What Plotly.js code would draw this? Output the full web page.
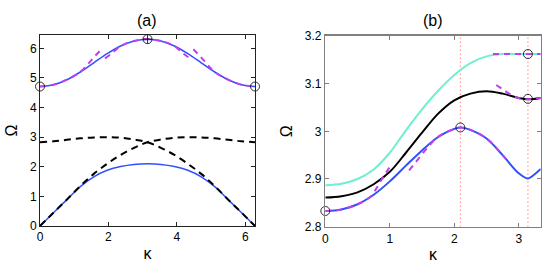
<!DOCTYPE html>
<html>
<head>
<meta charset="utf-8">
<script src="https://cdn.plot.ly/plotly-3.0.1.min.js"></script>
<style>html,body{margin:0;padding:0;background:#fff}#chart{width:545px;height:273px}</style>
</head>
<body>
<div id="chart"></div>
<script>
// ---------- panel (a) ----------
const kappaA = [0, 0.393, 0.785, 1.178, 1.571, 1.963, 2.356, 2.749, 3.142, 3.534, 3.927, 4.320, 4.712, 5.105, 5.498, 5.890, 6.283];
const upperBlueA = [4.71, 4.77, 4.94, 5.20, 5.51, 5.82, 6.08, 6.25, 6.31, 6.25, 6.08, 5.82, 5.51, 5.20, 4.94, 4.77, 4.71];
const lowerBlueA = [0, 0.45, 0.89, 1.33, 1.66, 1.88, 2.01, 2.08, 2.10, 2.08, 2.01, 1.88, 1.66, 1.33, 0.89, 0.45, 0];
const dashRiseA = [0, 0.45, 0.89, 1.35, 1.76, 2.10, 2.40, 2.64, 2.83, 2.92, 2.98, 3.00, 2.99, 2.96, 2.91, 2.86, 2.83];
const dashFallA = [2.83, 2.86, 2.91, 2.96, 2.99, 3.00, 2.98, 2.92, 2.83, 2.64, 2.40, 2.10, 1.76, 1.35, 0.89, 0.45, 0];
const kappaMagA = [0, 0.393, 0.785, 1.178, 1.4, 1.6, 1.8, null, 1.9, 2.1, 2.356, 2.749, 3.142, 3.534, 3.927, 4.18, 4.38, null, 4.48, 4.68, 4.88, 5.105, 5.498, 5.890, 6.283];
const magentaA = [4.71, 4.77, 4.94, 5.20, 5.47, 5.73, 5.97, null, 5.66, 5.83, 6.08, 6.25, 6.31, 6.25, 6.08, 5.83, 5.66, null, 5.97, 5.73, 5.47, 5.20, 4.94, 4.77, 4.71];
const circKA = [0, 3.142, 6.283];
const circOA = [4.71, 6.31, 4.71];

// ---------- panel (b) ----------
const kappaCyan = [0, 0.25, 0.5, 0.75, 1.0, 1.25, 1.5, 1.75, 2.0, 2.25, 2.5, 2.75, 3.0, 3.34];
const cyanB = [2.887, 2.890, 2.900, 2.920, 2.955, 3.002, 3.046, 3.085, 3.118, 3.143, 3.157, 3.162, 3.162, 3.162];
const kappaBlack = [0, 0.25, 0.5, 0.75, 1.0, 1.25, 1.5, 1.75, 2.0, 2.25, 2.5, 2.75, 3.0, 3.14, 3.34];
const blackB = [2.861, 2.864, 2.872, 2.889, 2.915, 2.955, 2.997, 3.037, 3.065, 3.079, 3.084, 3.079, 3.070, 3.067, 3.070];
const kappaBlue = [0, 0.25, 0.5, 0.75, 1.0, 1.25, 1.5, 1.75, 2.0, 2.1, 2.25, 2.5, 2.75, 3.0, 3.14, 3.2, 3.34];
const blueB = [2.833, 2.836, 2.847, 2.867, 2.895, 2.928, 2.960, 2.988, 3.005, 3.008, 3.003, 2.985, 2.950, 2.912, 2.901, 2.905, 2.921];
const kappaMagB = [0, 0.25, 0.5, 0.7, 0.8, 0.9, 1.0, null, 1.3, 1.4, 1.5, 1.6, 1.7, 1.8, 2.0, 2.1, 2.25, 2.5, 2.75, 2.8, null, 2.65, 2.75, 2.85, 2.95, 3.05, 3.14, 3.34, null, 2.6, 3.34];
const magentaB = [2.833, 2.836, 2.847, 2.863, 2.882, 2.905, 2.925, null, 2.918, 2.935, 2.952, 2.968, 2.983, 2.993, 3.005, 3.008, 3.003, 2.985, 2.950, 2.942, null, 3.097, 3.088, 3.079, 3.072, 3.068, 3.067, 3.070, null, 3.162, 3.162];
const circKB = [0, 2.094, 3.142, 3.142];
const circOB = [2.833, 3.008, 3.162, 3.068];
const vlineK = [2.094, 3.142];
const yRangeB = [2.8, 3.2];

const blue = '#3050ff', mag = '#c23cf0', cyan = '#6ef0d0';
const traces = [];
// panel (a)
traces.push({x: kappaA, y: upperBlueA, mode: 'lines', line: {color: blue, width: 1.5, shape: 'spline'}, xaxis: 'x', yaxis: 'y'});
traces.push({x: kappaMagA, y: magentaA, mode: 'lines', connectgaps: false, line: {color: mag, width: 2, dash: '6px,5px', shape: 'spline'}, xaxis: 'x', yaxis: 'y'});
traces.push({x: kappaA, y: lowerBlueA, mode: 'lines', line: {color: blue, width: 1.5, shape: 'spline'}, xaxis: 'x', yaxis: 'y'});
traces.push({x: kappaA, y: dashRiseA, mode: 'lines', line: {color: '#000', width: 2, dash: '7px,5px', shape: 'spline'}, xaxis: 'x', yaxis: 'y'});
traces.push({x: kappaA, y: dashFallA, mode: 'lines', line: {color: '#000', width: 2, dash: '7px,5px', shape: 'spline'}, xaxis: 'x', yaxis: 'y'});
traces.push({x: circKA, y: circOA, mode: 'markers', marker: {symbol: ['circle-open', 'circle-cross-open', 'circle-open'], size: 9, color: '#000', line: {width: 0.8, color: '#000'}}, cliponaxis: false, xaxis: 'x', yaxis: 'y'});
// panel (b)
vlineK.forEach(k => traces.push({x: [k, k], y: yRangeB, mode: 'lines', line: {color: '#ff5050', width: 1, dash: '1px,3px'}, xaxis: 'x2', yaxis: 'y2'}));
traces.push({x: kappaCyan, y: cyanB, mode: 'lines', line: {color: cyan, width: 2, shape: 'spline'}, xaxis: 'x2', yaxis: 'y2'});
traces.push({x: kappaBlack, y: blackB, mode: 'lines', line: {color: '#000', width: 2, shape: 'spline'}, xaxis: 'x2', yaxis: 'y2'});
traces.push({x: kappaBlue, y: blueB, mode: 'lines', line: {color: blue, width: 2, shape: 'spline'}, xaxis: 'x2', yaxis: 'y2'});
traces.push({x: kappaMagB, y: magentaB, mode: 'lines', connectgaps: false, line: {color: mag, width: 2, dash: '6px,5px', shape: 'spline'}, xaxis: 'x2', yaxis: 'y2'});
traces.push({x: circKB, y: circOB, mode: 'markers', marker: {symbol: 'circle-open', size: 9, color: '#000', line: {width: 0.8, color: '#000'}}, cliponaxis: false, xaxis: 'x2', yaxis: 'y2'});

const font = {family: 'Liberation Sans, Arial, sans-serif', size: 12, color: '#000'};
const axCommon = {showgrid: false, zeroline: false, showline: true, mirror: 'ticks', ticks: 'inside', ticklen: 4, tickfont: {family: font.family, size: 12, color: '#000'}};
const layout = {
  width: 545, height: 273,
  margin: {l: 0, r: 0, t: 0, b: 0},
  paper_bgcolor: '#fff', plot_bgcolor: '#fff',
  showlegend: false,
  font: font,
  xaxis: Object.assign({}, axCommon, {domain: [0.0734, 0.4679], range: [0, 6.283], tickvals: [0, 2, 4, 6], linecolor: '#222', tickcolor: '#222', title: {text: 'κ', font: {size: 16}, standoff: 4}}),
  yaxis: Object.assign({}, axCommon, {domain: [0.1722, 0.8718], range: [0, 6.45], tickvals: [0, 1, 2, 3, 4, 5, 6], linecolor: '#222', tickcolor: '#222', title: {text: 'Ω', font: {size: 16}, standoff: 8}}),
  xaxis2: Object.assign({}, axCommon, {domain: [0.5969, 0.9921], range: [0, 3.34], tickvals: [0, 1, 2, 3], linecolor: '#808080', tickcolor: '#808080', linewidth: 1.5, anchor: 'y2', title: {text: 'κ', font: {size: 16}, standoff: 4}}),
  yaxis2: Object.assign({}, axCommon, {domain: [0.1696, 0.8685], range: [2.8, 3.2], tickvals: [2.8, 2.9, 3.0, 3.1, 3.2], ticktext: ['2.8', '2.9', '3', '3.1', '3.2'], linecolor: '#808080', tickcolor: '#808080', linewidth: 1.5, anchor: 'x2', title: {text: 'Ω', font: {size: 16}, standoff: 8}}),
  annotations: [
    {text: '(a)', x: 0.2706, y: 0.925, xref: 'paper', yref: 'paper', xanchor: 'center', yanchor: 'middle', showarrow: false, font: {size: 16}},
    {text: '(b)', x: 0.7945, y: 0.925, xref: 'paper', yref: 'paper', xanchor: 'center', yanchor: 'middle', showarrow: false, font: {size: 16}}
  ]
};
Plotly.newPlot('chart', traces, layout, {displayModeBar: false, staticPlot: true});
</script>
</body>
</html>
